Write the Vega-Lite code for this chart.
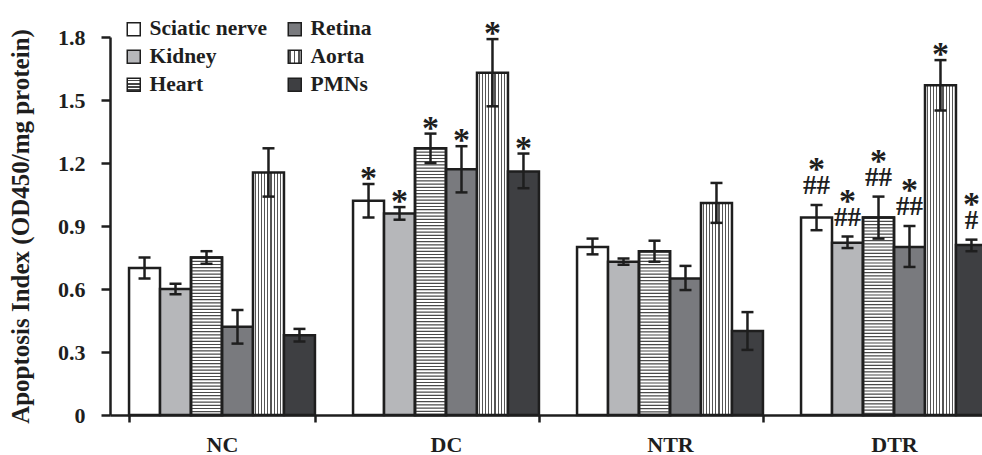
{
  "$schema": "https://vega.github.io/schema/vega-lite/v6.json",
  "autosize": {"type": "none"},
  "padding": {"left": 110, "top": 37, "right": 0, "bottom": 40},
  "width": 872,
  "height": 378,
  "background": "white",
  "config": {"view": {"stroke": null}},
  "data": {"values": [
    {"group": "NC", "tissue": "Sciatic nerve", "value": 0.70, "lo": 0.65, "hi": 0.75},
    {"group": "NC", "tissue": "Kidney", "value": 0.60, "lo": 0.575, "hi": 0.625},
    {"group": "NC", "tissue": "Heart", "value": 0.75, "lo": 0.72, "hi": 0.78},
    {"group": "NC", "tissue": "Retina", "value": 0.42, "lo": 0.34, "hi": 0.50},
    {"group": "NC", "tissue": "Aorta", "value": 1.155, "lo": 1.04, "hi": 1.27},
    {"group": "NC", "tissue": "PMNs", "value": 0.38, "lo": 0.35, "hi": 0.41},
    {"group": "DC", "tissue": "Sciatic nerve", "value": 1.02, "lo": 0.94, "hi": 1.10, "sig": "*"},
    {"group": "DC", "tissue": "Kidney", "value": 0.96, "lo": 0.93, "hi": 0.99, "sig": "*"},
    {"group": "DC", "tissue": "Heart", "value": 1.27, "lo": 1.20, "hi": 1.34, "sig": "*"},
    {"group": "DC", "tissue": "Retina", "value": 1.17, "lo": 1.06, "hi": 1.28, "sig": "*"},
    {"group": "DC", "tissue": "Aorta", "value": 1.63, "lo": 1.47, "hi": 1.79, "sig": "*"},
    {"group": "DC", "tissue": "PMNs", "value": 1.16, "lo": 1.08, "hi": 1.245, "sig": "*"},
    {"group": "NTR", "tissue": "Sciatic nerve", "value": 0.80, "lo": 0.765, "hi": 0.84},
    {"group": "NTR", "tissue": "Kidney", "value": 0.73, "lo": 0.715, "hi": 0.745},
    {"group": "NTR", "tissue": "Heart", "value": 0.78, "lo": 0.73, "hi": 0.83},
    {"group": "NTR", "tissue": "Retina", "value": 0.65, "lo": 0.595, "hi": 0.71},
    {"group": "NTR", "tissue": "Aorta", "value": 1.01, "lo": 0.915, "hi": 1.105},
    {"group": "NTR", "tissue": "PMNs", "value": 0.40, "lo": 0.31, "hi": 0.49},
    {"group": "DTR", "tissue": "Sciatic nerve", "value": 0.94, "lo": 0.88, "hi": 1.00, "sig": "*", "hash": "##"},
    {"group": "DTR", "tissue": "Kidney", "value": 0.82, "lo": 0.795, "hi": 0.85, "sig": "*", "hash": "##"},
    {"group": "DTR", "tissue": "Heart", "value": 0.94, "lo": 0.84, "hi": 1.04, "sig": "*", "hash": "##"},
    {"group": "DTR", "tissue": "Retina", "value": 0.80, "lo": 0.705, "hi": 0.90, "sig": "*", "hash": "##"},
    {"group": "DTR", "tissue": "Aorta", "value": 1.57, "lo": 1.45, "hi": 1.69, "sig": "*"},
    {"group": "DTR", "tissue": "PMNs", "value": 0.81, "lo": 0.78, "hi": 0.835, "sig": "*", "hash": "#"}
  ]},
  "encoding": {
    "x": {
      "field": "group", "type": "nominal", "sort": ["NC", "DC", "NTR", "DTR"],
      "scale": {"domain": ["NC", "DC", "NTR", "DTR"], "range": [0, 896], "paddingInner": 0.17, "paddingOuter": 0.085},
      "axis": {
        "title": null, "labelAngle": 0, "tickBand": "extent",
        "domainColor": "#1e1e1e", "domainWidth": 2.5, "tickColor": "#1e1e1e", "tickWidth": 2.5, "tickSize": 7,
        "labelFont": "Liberation Serif", "labelFontWeight": "bold", "labelFontSize": 22, "labelColor": "#1e1e1e", "labelPadding": 12
      }
    },
    "xOffset": {
      "field": "tissue", "type": "nominal",
      "sort": ["Sciatic nerve", "Kidney", "Heart", "Retina", "Aorta", "PMNs"],
      "scale": {"domain": ["Sciatic nerve", "Kidney", "Heart", "Retina", "Aorta", "PMNs"], "paddingInner": 0, "paddingOuter": 0}
    }
  },
  "layer": [
    {
      "mark": {"type": "bar", "stroke": "#1e1e1e", "strokeWidth": 2.5},
      "encoding": {
        "y": {
          "field": "value", "type": "quantitative",
          "scale": {"domain": [0, 1.8], "nice": false, "zero": true},
          "axis": {
            "values": [0, 0.3, 0.6, 0.9, 1.2, 1.5, 1.8], "grid": false,
            "labelExpr": "datum.value === 0 ? '0' : format(datum.value, '.1f')",
            "domainColor": "#1e1e1e", "domainWidth": 2.5, "tickColor": "#1e1e1e", "tickWidth": 2.5, "tickSize": 9,
            "labelFont": "Liberation Serif", "labelFontWeight": "bold", "labelFontSize": 22, "labelColor": "#1e1e1e", "labelPadding": 16,
            "title": "Apoptosis Index (OD450/mg protein)",
            "titleFont": "Liberation Serif", "titleFontWeight": "bold", "titleFontSize": 25, "titleColor": "#1e1e1e", "titlePadding": 24
          }
        },
        "color": {
          "condition": {"test": "datum.tissue === 'Heart'", "value": "white"},
          "field": "tissue", "type": "nominal",
          "scale": {
            "domain": ["Sciatic nerve", "Kidney", "Heart", "Retina", "Aorta", "PMNs"],
            "range": [
              "#ffffff",
              "#b6b7ba",
              {"expr": "{gradient:'linear',x1:0,y1:0,x2:0,y2:1,stops:[{offset:0,color:'#fff'},{offset:0.1,color:'#fff'},{offset:0.1,color:'#444'},{offset:0.25,color:'#444'},{offset:0.25,color:'#fff'},{offset:0.35,color:'#fff'},{offset:0.35,color:'#444'},{offset:0.5,color:'#444'},{offset:0.5,color:'#fff'},{offset:0.6,color:'#fff'},{offset:0.6,color:'#444'},{offset:0.75,color:'#444'},{offset:0.75,color:'#fff'},{offset:0.85,color:'#fff'},{offset:0.85,color:'#444'},{offset:1,color:'#444'}]}"},
              "#797a7e",
              {"expr": "{gradient:'linear',x1:0,y1:0,x2:1,y2:0,stops:[{offset:0,color:'#fff'},{offset:0.065,color:'#fff'},{offset:0.065,color:'#555'},{offset:0.1,color:'#555'},{offset:0.1,color:'#fff'},{offset:0.165,color:'#fff'},{offset:0.165,color:'#555'},{offset:0.2,color:'#555'},{offset:0.2,color:'#fff'},{offset:0.265,color:'#fff'},{offset:0.265,color:'#555'},{offset:0.3,color:'#555'},{offset:0.3,color:'#fff'},{offset:0.365,color:'#fff'},{offset:0.365,color:'#555'},{offset:0.4,color:'#555'},{offset:0.4,color:'#fff'},{offset:0.465,color:'#fff'},{offset:0.465,color:'#555'},{offset:0.5,color:'#555'},{offset:0.5,color:'#fff'},{offset:0.565,color:'#fff'},{offset:0.565,color:'#555'},{offset:0.6,color:'#555'},{offset:0.6,color:'#fff'},{offset:0.665,color:'#fff'},{offset:0.665,color:'#555'},{offset:0.7,color:'#555'},{offset:0.7,color:'#fff'},{offset:0.765,color:'#fff'},{offset:0.765,color:'#555'},{offset:0.8,color:'#555'},{offset:0.8,color:'#fff'},{offset:0.865,color:'#fff'},{offset:0.865,color:'#555'},{offset:0.9,color:'#555'},{offset:0.9,color:'#fff'},{offset:0.965,color:'#fff'},{offset:0.965,color:'#555'},{offset:1,color:'#555'}]}"},
              "#3e3f42"
            ]
          },
          "legend": {
            "orient": "none", "legendX": 13, "legendY": -19, "columns": 2, "title": null, "padding": 0,
            "values": ["Sciatic nerve", "Kidney", "Heart", "Retina", "Aorta", "PMNs"],
            "symbolType": "square", "symbolSize": 169, "symbolStrokeColor": "#1e1e1e", "symbolStrokeWidth": 1.5, "symbolOpacity": 1,
            "labelFont": "Liberation Serif", "labelFontWeight": "bold", "labelFontSize": 21.5, "labelColor": "#1e1e1e",
            "labelOffset": 5, "rowPadding": 5, "columnPadding": 16
          }
        }
      }
    },
    {
      "transform": [{"filter": "datum.tissue === 'Heart'"}],
      "mark": {"type": "rule", "strokeWidth": 29, "color": "#4a4a4a", "strokeDash": [1.2, 2.0], "strokeCap": "butt"},
      "encoding": {
        "y": {"field": "value", "type": "quantitative"},
        "y2": {"datum": 0}
      }
    },
    {
      "transform": [{"filter": "datum.tissue === 'Heart'"}],
      "mark": {"type": "bar", "fillOpacity": 0, "stroke": "#1e1e1e", "strokeWidth": 2.5},
      "encoding": {
        "y": {"field": "value", "type": "quantitative"}
      }
    },
    {
      "mark": {"type": "rule", "color": "#1e1e1e", "strokeWidth": 2.5},
      "encoding": {
        "y": {"field": "lo", "type": "quantitative"},
        "y2": {"field": "hi"}
      }
    },
    {
      "mark": {"type": "tick", "color": "#1e1e1e", "thickness": 2.5, "size": 12, "opacity": 1},
      "encoding": {"y": {"field": "lo", "type": "quantitative"}}
    },
    {
      "mark": {"type": "tick", "color": "#1e1e1e", "thickness": 2.5, "size": 12, "opacity": 1},
      "encoding": {"y": {"field": "hi", "type": "quantitative"}}
    },
    {
      "transform": [{"filter": "datum.sig === '*' && datum.hash == null"}],
      "mark": {"type": "text", "font": "Liberation Serif", "fontWeight": "bold", "fontSize": 34, "color": "#1e1e1e", "baseline": "alphabetic", "dy": 5},
      "encoding": {
        "y": {"field": "hi", "type": "quantitative"},
        "text": {"field": "sig"}
      }
    },
    {
      "transform": [{"filter": "datum.hash != null"}],
      "mark": {"type": "text", "font": "Liberation Serif", "fontWeight": "bold", "fontSize": 34, "color": "#1e1e1e", "baseline": "alphabetic", "dy": -25},
      "encoding": {
        "y": {"field": "hi", "type": "quantitative"},
        "text": {"field": "sig"}
      }
    },
    {
      "transform": [{"filter": "datum.hash != null"}],
      "mark": {"type": "text", "font": "Liberation Serif", "fontWeight": "bold", "fontSize": 27, "color": "#1e1e1e", "baseline": "alphabetic", "dy": -11},
      "encoding": {
        "y": {"field": "hi", "type": "quantitative"},
        "text": {"field": "hash"}
      }
    }
  ]
}
